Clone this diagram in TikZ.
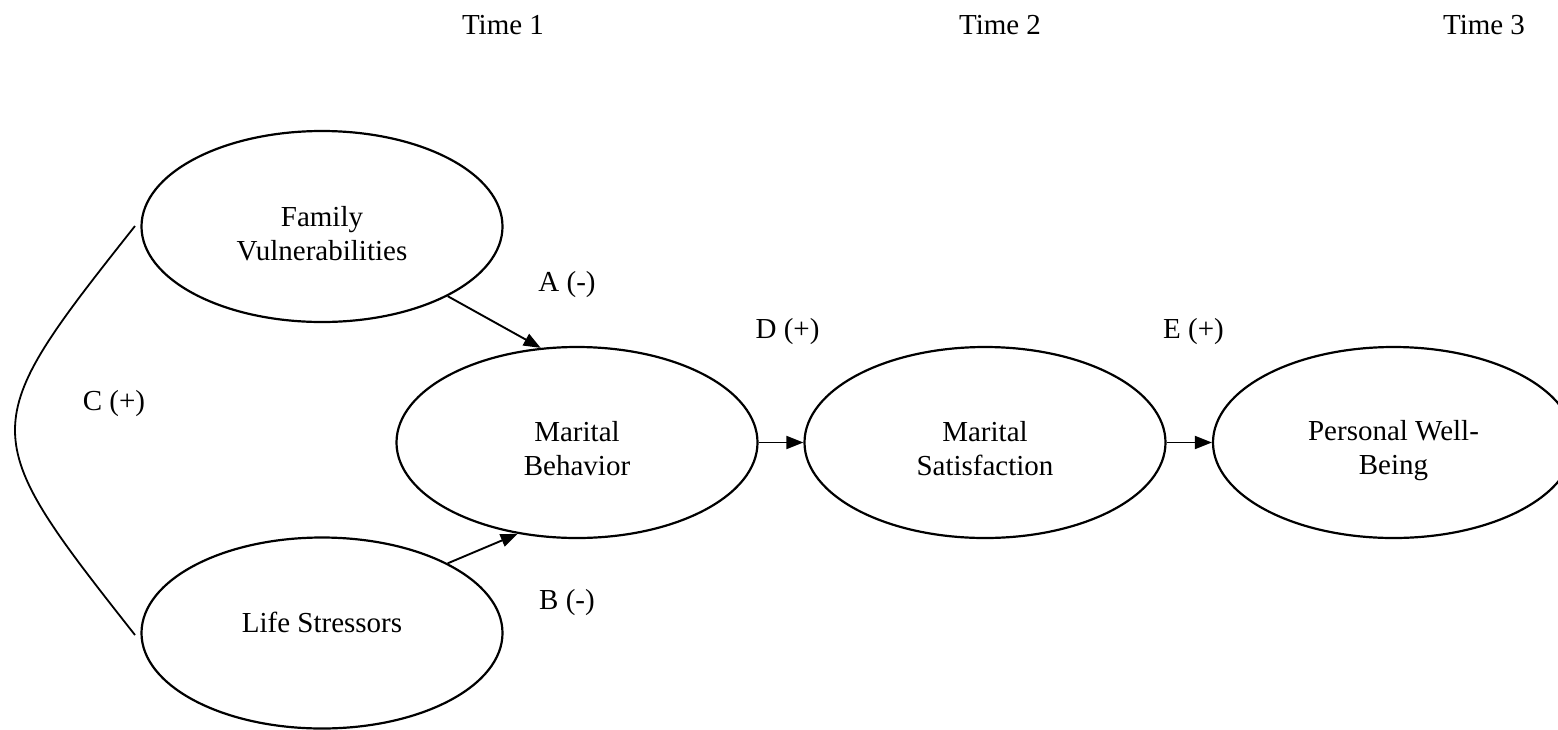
\documentclass[tikz,border=0pt]{standalone}
\usepackage{fontspec}
\setmainfont{Liberation Serif}
\usetikzlibrary{arrows.meta,shapes.geometric}
\begin{document}
\begin{tikzpicture}[x=0.5pt,y=-0.5pt,
  ell/.style={draw,ellipse,line width=1.1pt,minimum width=180.5pt,minimum height=95.5pt,inner sep=0pt},
  txt/.style={font=\fontsize{14.5}{17}\selectfont,align=center,inner sep=0pt},
  arr/.style={line width=0.95pt,-{Triangle[length=8.5pt,width=6.5pt]}},
  link/.style={line width=0.9pt}]
\clip (0,0) rectangle (1558,729);
% ellipses
\node[ell] (fam) at (322,226.5) {};
\node[ell] (life) at (322,633) {};
\node[ell] (mb) at (577,442.5) {};
\node[ell] (ms) at (985,442.5) {};
\node[ell] (pw) at (1393.5,442.5) {};
% ellipse texts
\node[txt] (famT) at (322,234) {Family\\Vulnerabilities};
\node[txt,anchor=base] (lifeT) at (322,632) {Life Stressors};
\node[txt] (mbT) at (577,449) {Marital\\Behavior};
\node[txt] (msT) at (985,449) {Marital\\Satisfaction};
\node[txt] (pwT) at (1393.5,450.3) {Personal Well-\\Being};
% time headers
\node[txt,anchor=base] (t1) at (503,34) {Time 1};
\node[txt,anchor=base] (t2) at (1000,34) {Time 2};
\node[txt,anchor=base] (t3) at (1484,34) {Time 3};
% path labels
\node[txt,anchor=base] (lA) at (567,291) {A (-)};
\node[txt,anchor=base] (lB) at (567,609) {B (-)};
\node[txt,anchor=base] (lC) at (114,410) {C (+)};
\node[txt,anchor=base] (lD) at (787.5,338) {D (+)};
\node[txt,anchor=base] (lE) at (1193.5,338) {E (+)};
% connectors
\draw[arr] (fam.-29.5) -- (mb.111);
\draw[arr] (life.29.8) -- (mb.237.9);
\draw[arr] (mb.east) -- (ms.west);
\draw[arr] (ms.east) -- (pw.west);
% correlation curve
\coordinate (cTop) at (135,226);
\coordinate (cBot) at (135,635);
\draw[link] (cTop) .. controls (-25,428) and (-25,432) .. (cBot);
\end{tikzpicture}
\end{document}
